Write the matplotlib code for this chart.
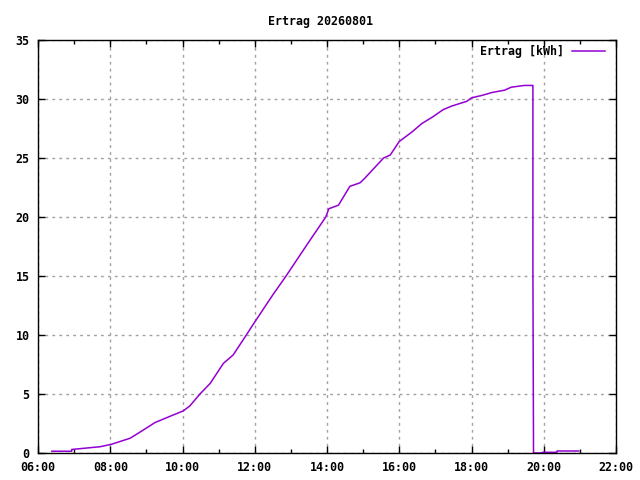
import numpy as np
import matplotlib
matplotlib.use('Agg')
import matplotlib.pyplot as plt
from matplotlib.ticker import MultipleLocator, FuncFormatter

# yield readings (time of day, cumulative kWh)
times = ['06:23', '06:56', '06:56', '07:43', '08:02', '08:33', '08:55', '09:14',
         '09:34', '10:01', '10:12', '10:29', '10:46', '11:08', '11:24', '11:46',
         '12:00', '12:30', '12:52', '13:30', '13:58', '14:03',
         '14:19', '14:38', '14:55', '15:03', '15:34', '15:45', '16:00', '16:21',
         '16:37', '16:56', '17:13', '17:27', '17:52', '18:00', '18:17', '18:34',
         '18:55', '19:06', '19:28', '19:42', '19:42', '19:43', '19:58', '19:58',
         '20:22', '20:22', '20:58']
ertrag = [0.15, 0.15, 0.3, 0.53, 0.74, 1.25, 1.95, 2.57,
          3.0, 3.56, 3.98, 5.0, 5.9, 7.6, 8.3, 10.0,
          11.1, 13.4, 15.0, 17.9, 20.0, 20.7,
          21.0, 22.6, 22.9, 23.3, 25.0, 25.25, 26.4, 27.2,
          27.9, 28.5, 29.1, 29.4, 29.8, 30.1, 30.3, 30.55,
          30.75, 31.0, 31.15, 31.15, 15.5, 0.0, 0.0, 0.06,
          0.06, 0.17, 0.17]

title = 'Ertrag 20260801'
label = 'Ertrag [kWh]'


def to_hours(t):
    h, m = t.split(':')
    return int(h) + int(m) / 60.0


def main():
    x = np.array([to_hours(t) for t in times])
    y = np.array(ertrag)

    font = {'family': 'DejaVu Sans Mono', 'weight': 'bold', 'size': 8.4}

    fig = plt.figure(figsize=(6.4, 4.8), dpi=100)
    ax = fig.add_axes([38 / 640, 1 - 453 / 480, 578 / 640, 413 / 480])

    ax.plot(x, y, '-', c='#9400d3', lw=1.1)

    ax.set_xlim(6, 22)
    ax.set_ylim(0, 35)
    ax.xaxis.set_major_locator(MultipleLocator(2))
    ax.xaxis.set_minor_locator(MultipleLocator(1))
    ax.yaxis.set_major_locator(MultipleLocator(5))
    ax.xaxis.set_major_formatter(FuncFormatter(lambda v, p: '%02d:00' % int(round(v))))
    ax.tick_params(which='both', direction='in', top=True, right=True, width=1)
    ax.tick_params(which='major', length=5, pad=6)
    ax.tick_params(which='minor', length=3)
    for lab in ax.get_xticklabels() + ax.get_yticklabels():
        lab.set_fontproperties(font)
        lab.set_fontsize(8.4)
    ax.grid(True, which='major', ls=(0, (2, 3)), c='#a0a0a0', lw=1)
    for s in ax.spines.values():
        s.set_linewidth(1)

    # legend drawn like gnuplot key
    ax.text(564 / 640, 1 - 51 / 480, label, transform=fig.transFigure,
            ha='right', va='center', fontdict=font)
    ax.plot([572 / 640, 605 / 640], [1 - 51 / 480, 1 - 51 / 480],
            transform=fig.transFigure, c='#9400d3', lw=1.1, clip_on=False)

    fig.text(0.5, 1 - 21 / 480, title, ha='center', va='center', fontdict=font)

    plt.savefig('out.png', dpi=100)


if __name__ == '__main__':
    main()
